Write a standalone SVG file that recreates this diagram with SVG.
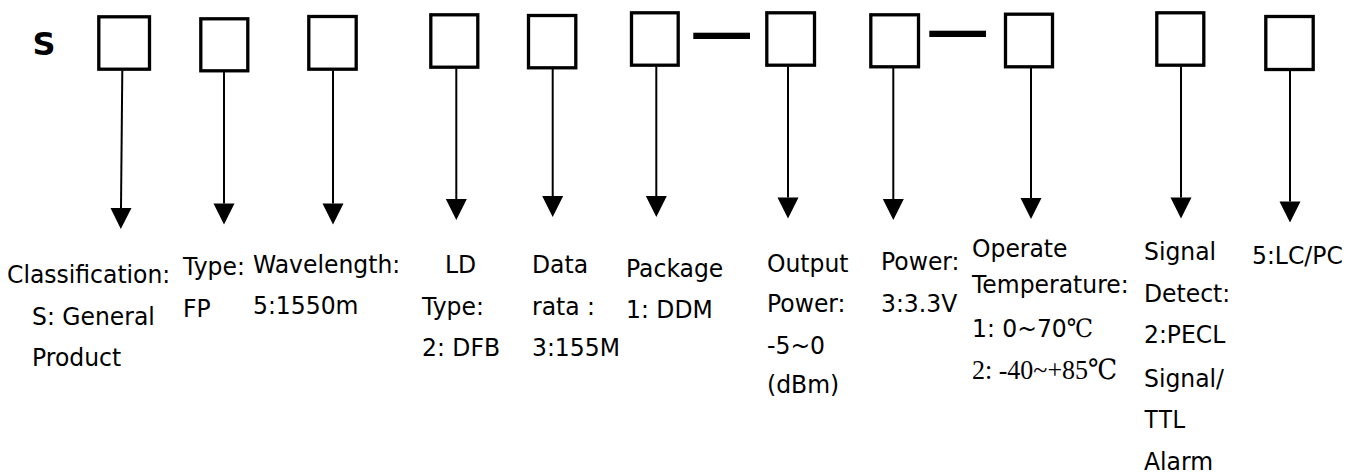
<svg xmlns="http://www.w3.org/2000/svg" width="1367" height="473" viewBox="0 0 1367 473">
<style>
.bx{fill:none;stroke:#000;stroke-width:3.3}
.ds{fill:#000}
.ar{stroke:#000;stroke-width:2;fill:none}
.t{font-family:"DejaVu Sans","Noto Sans",sans-serif;font-size:23.5px;fill:#000}
.sr{font-family:"Liberation Serif","DejaVu Serif","Noto Sans CJK SC",serif}
.ar2{font-family:"Liberation Sans",Arial,sans-serif}
.big{font-family:"DejaVu Sans",sans-serif;font-weight:bold;font-size:32px}
</style>
<defs>
<marker id="ah" markerUnits="userSpaceOnUse" markerWidth="22" markerHeight="22" refX="0" refY="10.5" orient="auto" overflow="visible">
<path d="M0,0 L21,10.5 L0,21 z" fill="#000"/>
</marker>
</defs>
<text class="big" x="32.5" y="54.5">S</text>
<g id="n1"><rect class="bx" x="98.8" y="16.8" width="50.7" height="52.4"/></g>
<g id="n2"><rect class="bx" x="200.8" y="18.8" width="47" height="52"/></g>
<g id="n3"><rect class="bx" x="308.8" y="16.5" width="47.4" height="52.7"/></g>
<g id="n4"><rect class="bx" x="430.8" y="14.8" width="47" height="52.4"/></g>
<g id="n5"><rect class="bx" x="528.5" y="15.5" width="47.3" height="52.3"/></g>
<g id="n6"><rect class="bx" x="631.5" y="12.8" width="46.7" height="52.4"/></g>
<g id="n7"><rect class="bx" x="766.8" y="12.8" width="47.7" height="52.4"/></g>
<g id="n8"><rect class="bx" x="870.8" y="14.8" width="47.7" height="52"/></g>
<g id="n9"><rect class="bx" x="1005.5" y="14.2" width="47" height="52.6"/></g>
<g id="n10"><rect class="bx" x="1156.8" y="12.8" width="47" height="52.4"/></g>
<g id="n11"><rect class="bx" x="1265.8" y="16.5" width="47.4" height="53"/></g>
<g id="dashes">
<rect class="ds" x="693.3" y="32.7" width="56.7" height="6.3"/>
<rect class="ds" x="929.3" y="30.7" width="56.7" height="6.3"/>
</g>
<g id="connectors">
<line class="ar" x1="122.3" y1="70.5" x2="121" y2="208" marker-end="url(#ah)"/>
<line class="ar" x1="224" y1="72" x2="224" y2="203.5" marker-end="url(#ah)"/>
<line class="ar" x1="333" y1="70.5" x2="333" y2="203.5" marker-end="url(#ah)"/>
<line class="ar" x1="456.3" y1="68.5" x2="456.3" y2="199" marker-end="url(#ah)"/>
<line class="ar" x1="552.7" y1="69" x2="552.7" y2="196" marker-end="url(#ah)"/>
<line class="ar" x1="656.3" y1="66.5" x2="656.3" y2="196" marker-end="url(#ah)"/>
<line class="ar" x1="788" y1="66.5" x2="788" y2="197.5" marker-end="url(#ah)"/>
<line class="ar" x1="893.3" y1="68" x2="893.3" y2="199" marker-end="url(#ah)"/>
<line class="ar" x1="1031" y1="68" x2="1031" y2="198" marker-end="url(#ah)"/>
<line class="ar" x1="1181" y1="66.5" x2="1181" y2="197.5" marker-end="url(#ah)"/>
<line class="ar" x1="1290" y1="70.5" x2="1290" y2="201.5" marker-end="url(#ah)"/>
</g>
<g id="labels" transform="scale(1,1.08)">
<text class="t" x="7" y="262.04">Classification:</text>
<text class="t" x="32" y="300.93">S: General</text>
<text class="t" x="32" y="338.89">Product</text>
<text class="t" x="183" y="254.63">Type:</text>
<text class="t" x="183" y="293.52">FP</text>
<text class="t" x="253" y="252.78">Wavelength:</text>
<text class="t" x="253" y="290.74">5:1550m</text>
<text class="t" x="445" y="252.78">LD</text>
<text class="t" x="422" y="291.67">Type:</text>
<text class="t" x="422" y="329.63">2: DFB</text>
<text class="t" x="532" y="252.78">Data</text>
<text class="t" x="532" y="291.67">rata :</text>
<text class="t" x="532" y="329.63">3:155M</text>
<text class="t" x="626" y="256.48">Package</text>
<text class="t" x="626" y="294.44">1: DDM</text>
<text class="t" x="767" y="251.85">Output</text>
<text class="t" x="767" y="288.89">Power:</text>
<text class="t" x="767" y="327.78">-5~0</text>
<text class="t" x="767" y="363.89">(dBm)</text>
<text class="t" x="881" y="250">Power:</text>
<text class="t" x="881" y="288.89">3:3.3V</text>
<text class="t" x="972" y="237.96">Operate</text>
<text class="t" x="972" y="271.30">Temperature:</text>
<text class="t" x="972" y="312.04">1: 0~70<tspan class="sr">℃</tspan></text>
<text class="t sr" x="972" y="350.93" style="font-size:26px">2: -40~+85℃</text>
<text class="t" x="1144" y="240.74">Signal</text>
<text class="t" x="1144" y="279.63">Detect:</text>
<text class="t" x="1144" y="317.59">2:PECL</text>
<text class="t" x="1144" y="358.33">Signal/</text>
<text class="t ar2" x="1144" y="396.30">TTL</text>
<text class="t" x="1144" y="435.19">Alarm</text>
<text class="t" x="1252" y="244.44">5:LC/PC</text>
</g>
</svg>
